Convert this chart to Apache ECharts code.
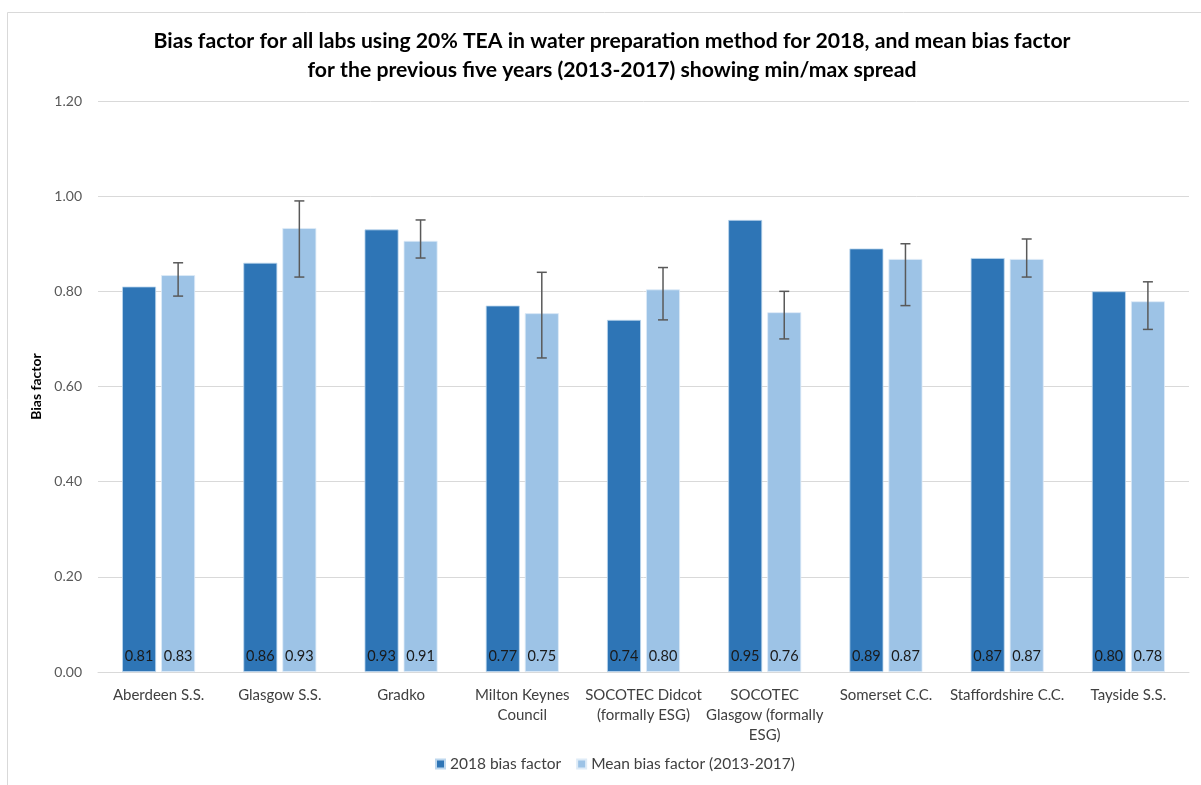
<!DOCTYPE html>
<html>
<head>
<meta charset="utf-8">
<script src="https://cdn.jsdelivr.net/npm/echarts@6/dist/echarts.min.js"></script>
<style>
html,body{margin:0;padding:0;background:#fff;}
#chart{width:1201px;height:785px;}
</style>
</head>
<body>
<div id="chart"></div>
<script>
const categories = [
  'Aberdeen S.S.',
  'Glasgow S.S.',
  'Gradko',
  'Milton Keynes\nCouncil',
  'SOCOTEC Didcot\n(formally ESG)',
  'SOCOTEC\nGlasgow (formally\nESG)',
  'Somerset C.C.',
  'Staffordshire C.C.',
  'Tayside S.S.'
];
const bias2018 = [0.81, 0.86, 0.93, 0.77, 0.74, 0.95, 0.89, 0.87, 0.80];
const meanBias = [0.834, 0.933, 0.906, 0.754, 0.804, 0.756, 0.868, 0.868, 0.779];
const meanMin = [0.79, 0.83, 0.87, 0.66, 0.74, 0.70, 0.77, 0.83, 0.72];
const meanMax = [0.86, 0.99, 0.95, 0.84, 0.85, 0.80, 0.90, 0.91, 0.82];
const yTicks = { min: 0, max: 1.2, interval: 0.2 };

const FONT = 'Lato';
const BAR_W = 0.28;   // fraction of band
const GAP = 0.15;     // fraction of bar width

const errData = categories.map((c, i) => [i, meanMin[i], meanMax[i]]);

const chart = echarts.init(document.getElementById('chart'));
chart.setOption({
  backgroundColor: '#fff',
  animation: false,
  textStyle: { fontFamily: FONT },
  title: {
    text: 'Bias factor for all labs using 20% TEA in water preparation method for 2018, and mean bias factor\nfor the previous five years (2013-2017) showing min/max spread',
    left: 607, textAlign: 'center', top: 22,
    textStyle: { fontFamily: FONT, fontSize: 21.2, fontWeight: 'bold', color: '#000', lineHeight: 29 }
  },
  graphic: [{
    type: 'rect', shape: { x: 7.5, y: 12.5, width: 1300, height: 900 },
    style: { fill: 'none', stroke: '#d9d9d9', lineWidth: 1 }, silent: true, z: -10
  }],
  legend: {
    bottom: 8, left: 430, itemGap: 15, itemWidth: 9, itemHeight: 9,
    icon: 'rect',
    textStyle: { fontFamily: FONT, fontSize: 15.5, color: '#404040' },
    data: ['2018 bias factor', 'Mean bias factor (2013-2017)']
  },
  grid: { left: 98, right: 12, top: 101, bottom: 113 },
  xAxis: {
    type: 'category', data: categories,
    axisLine: { lineStyle: { color: '#d9d9d9', width: 1 } },
    axisTick: { show: false },
    axisLabel: { interval: 0, fontFamily: FONT, fontSize: 15, color: '#404040', margin: 13, lineHeight: 20 }
  },
  yAxis: {
    type: 'value', min: yTicks.min, max: yTicks.max, interval: yTicks.interval,
    name: 'Bias factor', nameLocation: 'middle', nameGap: 52, nameRotate: 90,
    nameTextStyle: { fontFamily: FONT, fontSize: 14, fontWeight: 'bold', color: '#000' },
    axisLine: { show: false }, axisTick: { show: false },
    axisLabel: { fontFamily: FONT, fontSize: 14, color: '#595959', margin: 16, formatter: v => v.toFixed(2) },
    splitLine: { lineStyle: { color: '#d9d9d9', width: 1 } }
  },
  series: [
    {
      name: '2018 bias factor', type: 'bar', data: bias2018,
      barWidth: (BAR_W * 100) + '%', barGap: (GAP * 100) + '%',
      itemStyle: { color: '#2E75B6', borderColor: '#BDD7EE', borderWidth: 0.8 },
      label: { show: true, position: 'insideBottom', distance: 8, color: '#1a1a1a', fontFamily: FONT, fontSize: 14.5, formatter: p => p.value.toFixed(2) }
    },
    {
      name: 'Mean bias factor (2013-2017)', type: 'bar', data: meanBias,
      barWidth: (BAR_W * 100) + '%',
      itemStyle: { color: '#9DC3E6', borderColor: '#DEEBF7', borderWidth: 0.8 },
      label: { show: true, position: 'insideBottom', distance: 8, color: '#1a1a1a', fontFamily: FONT, fontSize: 14.5, formatter: p => p.value.toFixed(2) }
    },
    {
      name: 'spread', type: 'custom', data: errData, z: 10,
      encode: { x: 0, y: [1, 2] },
      renderItem: function (params, api) {
        const idx = api.value(0);
        const lo = api.coord([idx, api.value(1)]);
        const hi = api.coord([idx, api.value(2)]);
        const band = api.size([1, 0])[0];
        const w = band * BAR_W;
        const off = (w + w * GAP) / 2;
        const x = lo[0] + off;
        const cap = 5;
        const style = { stroke: '#595959', lineWidth: 1.5 };
        return {
          type: 'group',
          children: [
            { type: 'line', shape: { x1: x, y1: hi[1], x2: x, y2: lo[1] }, style },
            { type: 'line', shape: { x1: x - cap, y1: hi[1], x2: x + cap, y2: hi[1] }, style },
            { type: 'line', shape: { x1: x - cap, y1: lo[1], x2: x + cap, y2: lo[1] }, style }
          ]
        };
      }
    }
  ]
});
</script>
</body>
</html>
